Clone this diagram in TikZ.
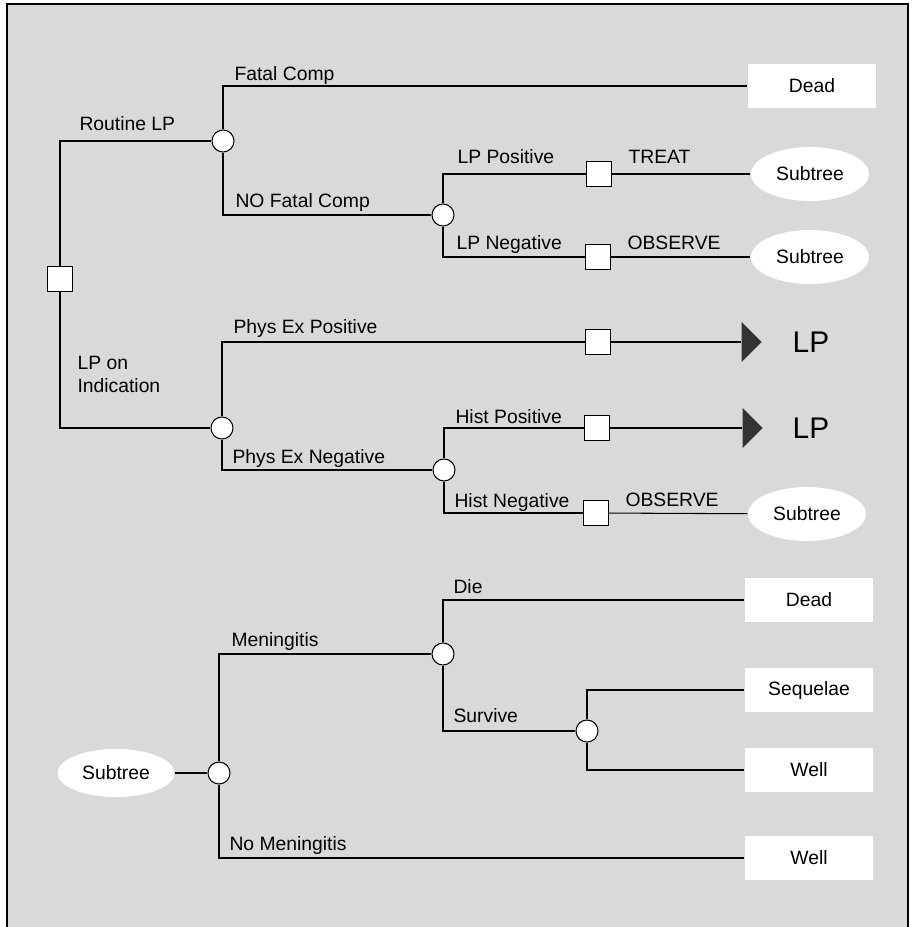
\documentclass[tikz,border=0pt]{standalone}
\usepackage{fontspec}
\setmainfont{Liberation Sans}
\usetikzlibrary{shapes.geometric}
\tikzset{
  chance/.style={circle, draw, fill=white, minimum size=4.4mm, inner sep=0pt},
  choice/.style={rectangle, draw, fill=white, minimum size=5mm, inner sep=0pt},
  payoff/.style={rectangle, fill=white, minimum width=25.8mm, minimum height=8.8mm},
  subtree/.style={ellipse, fill=white, minimum width=23.6mm, minimum height=10.8mm},
  jump/.style={isosceles triangle, isosceles triangle stretches, fill=black!80,
    minimum width=8mm, minimum height=4mm, inner sep=0pt},
  lbl/.style={anchor=base west, inner sep=0pt},
}
\begin{document}
\begin{tikzpicture}[x=0.02cm, y=-0.02cm, line width=0.6pt,
  every node/.style={font=\fontsize{11}{13}\selectfont}]
      \useasboundingbox (0, 0) rectangle (912, 927);
      \fill [black!15] (7, 4) rectangle (908, 927);
      \draw [line width=1pt] (7, 927) -- (7, 4) -- (908, 4) -- (908, 927);

      % first tree
      \node [choice] (root) at (60, 279) {};
      \node [chance] (c1) at (223, 141) {};
      \node [chance] (c2) at (443, 215) {};
      \node [chance] (c3) at (222, 428) {};
      \node [chance] (c4) at (444, 470) {};
      \node [payoff] (dead1) at (812, 86) {Dead};
      \node [choice] (sq1) at (599, 174) {};
      \node [choice] (sq2) at (598, 257) {};
      \node [choice] (sq3) at (598, 342) {};
      \node [choice] (sq4) at (597, 428) {};
      \node [choice] (sq5) at (596, 513) {};
      \node [subtree] (sub1) at (810, 174) {Subtree};
      \node [subtree] (sub2) at (810, 257) {Subtree};
      \node [subtree] (sub3) at (807, 514) {Subtree};
      \node [jump] (tri1) at (750, 342) {};
      \node [jump] (tri2) at (751, 428) {};
      \node [font=\fontsize{17}{20}\selectfont] (lp1) at (811, 342) {LP};
      \node [font=\fontsize{17}{20}\selectfont] (lp2) at (811, 428) {LP};

      \draw (root) |- (c1);
      \draw (root) |- (c3);
      \draw (c1) |- (dead1);
      \draw (c1) |- (c2);
      \draw (c2) |- (sq1);
      \draw (c2) |- (sq2);
      \draw (sq1) -- (sub1);
      \draw (sq2) -- (sub2);
      \draw (c3) |- (sq3);
      \draw (c3) |- (c4);
      \draw (c4) |- (sq4);
      \draw (c4) |- (sq5);
      \draw (sq3) -- (tri1);
      \draw (sq4) -- (tri2);
      \draw (sq5) -- (sub3);

      \node [lbl] at (79, 130) {Routine LP};
      \node [lbl] at (234, 80) {Fatal Comp};
      \node [lbl] at (235, 207) {NO Fatal Comp};
      \node [lbl] at (457, 163) {LP Positive};
      \node [lbl] at (628, 163) {TREAT};
      \node [lbl] at (456, 249) {LP Negative};
      \node [lbl] at (627, 249) {OBSERVE};
      \node [lbl, align=left] at (77, 392) {LP on\\Indication};
      \node [lbl] at (233, 333) {Phys Ex Positive};
      \node [lbl] at (232, 463) {Phys Ex Negative};
      \node [lbl] at (455, 423) {Hist Positive};
      \node [lbl] at (454, 507) {Hist Negative};
      \node [lbl] at (625, 506) {OBSERVE};

      % subtree
      \node [subtree, minimum width=23.4mm, minimum height=9.6mm] (sub4) at (116, 773) {Subtree};
      \node [chance] (c5) at (219, 773) {};
      \node [chance] (c6) at (443, 654) {};
      \node [chance] (c7) at (587, 731) {};
      \node [payoff] (dead2) at (809, 600) {Dead};
      \node [payoff] (seq) at (809, 690) {Sequelae};
      \node [payoff] (well1) at (809, 770) {Well};
      \node [payoff] (well2) at (809, 858) {Well};

      \draw (sub4) -- (c5);
      \draw (c5) |- (c6);
      \draw (c5) |- (well2);
      \draw (c6) |- (dead2);
      \draw (c6) |- (c7);
      \draw (c7) |- (seq);
      \draw (c7) |- (well1);

      \node [lbl] at (231, 646) {Meningitis};
      \node [lbl] at (229, 850) {No Meningitis};
      \node [lbl] at (453, 593) {Die};
      \node [lbl] at (453, 722) {Survive};
    \end{tikzpicture}
\end{document}
